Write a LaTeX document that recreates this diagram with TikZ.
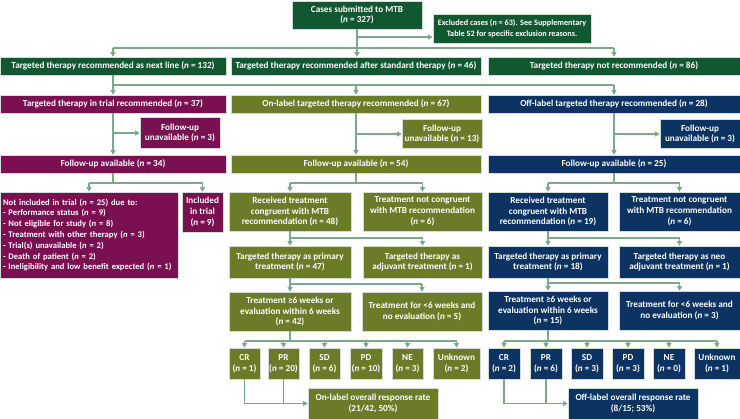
\documentclass[tikz,border=0pt]{standalone}
\usepackage{fontspec}
\setmainfont{Carlito}
\usetikzlibrary{arrows.meta}
\definecolor{dg}{HTML}{11572F}
\definecolor{pu}{HTML}{7A0F52}
\definecolor{ol}{HTML}{6C7B27}
\definecolor{nv}{HTML}{0C3361}
\definecolor{lc}{HTML}{7DA98A}
\definecolor{bd}{HTML}{D5DDD7}
\newcommand\nv{\textit{n}}
\newcommand\splitto[4]{%
  \draw[cn] (#1.south) -- (#1.south |- 0,#2);
  \draw[cn] (#3.north |- 0,#2) -- (#4.north |- 0,#2);
  \draw[ar] (#3.north |- 0,#2) -- (#3.north);
  \draw[ar] (#4.north |- 0,#2) -- (#4.north);}
\begin{document}
\begin{tikzpicture}[x=1pt,y=-1pt,
  bx/.style={draw=bd, line width=0.6pt, text=white, align=center, inner sep=0pt,
    font=\bfseries\fontsize{9.2}{10.8}\selectfont},
  cn/.style={draw=lc, line width=1.3pt},
  ar/.style={cn, -{Triangle[length=4.5pt,width=5pt]}}]
\useasboundingbox (0,0) rectangle (740,419);
% top
\node[bx, fill=dg, minimum width=130, minimum height=28] (top) at (357,15) {Cases submitted to MTB\\(\nv{} = 327)};
\node[bx, fill=dg, minimum width=158, minimum height=29, font=\bfseries\fontsize{8.2}{10.4}\selectfont] (excl) at (512,28.5) {Excluded cases (\nv{} = 63). See Supplementary\\Table S2 for specific exclusion reasons.};
% level 1
\node[bx, fill=dg, minimum width=226, minimum height=18] (la1) at (113,66) {Targeted therapy recommended as next line (\nv{} = 132)};
\node[bx, fill=dg, minimum width=250, minimum height=18] (lb1) at (356,66) {Targeted therapy recommended after standard therapy (\nv{} = 46)};
\node[bx, fill=dg, minimum width=252, minimum height=18] (lc1) at (614,66) {Targeted therapy not recommended (\nv{} = 86)};
% level 2
\node[bx, fill=pu, minimum width=226, minimum height=18] (la2) at (113,104) {Targeted therapy in trial recommended (\nv{} = 37)};
\node[bx, fill=ol, minimum width=250, minimum height=18] (lb2) at (356,104) {On-label targeted therapy recommended (\nv{} = 67)};
\node[bx, fill=nv, minimum width=252, minimum height=18] (lc2) at (614,104) {Off-label targeted therapy recommended (\nv{} = 28)};
% follow-up unavailable
\node[bx, fill=pu, minimum width=80, minimum height=31] (fua) at (180,133) {Follow-up\\unavailable (\nv{} = 3)};
\node[bx, fill=ol, minimum width=80, minimum height=29] (fub) at (442,134) {Follow-up\\unavailable (\nv{} = 13)};
\node[bx, fill=nv, minimum width=80, minimum height=29] (fuc) at (700,134) {Follow-up\\unavailable (\nv{} = 3)};
% follow-up available
\node[bx, fill=pu, minimum width=226, minimum height=18] (faa) at (113,164) {Follow-up available (\nv{} = 34)};
\node[bx, fill=ol, minimum width=250, minimum height=18] (fab) at (356,164) {Follow-up available (\nv{} = 54)};
\node[bx, fill=nv, minimum width=252, minimum height=18] (fac) at (614,164) {Follow-up available (\nv{} = 25)};
% left column
\node[bx, fill=pu, minimum width=178, minimum height=86, text width=172, inner xsep=3pt, align=left,
  font=\bfseries\fontsize{8.6}{10.8}\selectfont] (ni) at (89,235) {Not included in trial (\nv{} = 25) due to:\\
- Performance status (\nv{} = 9)\\
- Not eligible for study (\nv{} = 8)\\
- Treatment with other therapy (\nv{} = 3)\\
- Trial(s) unavailable (\nv{} = 2)\\
- Death of patient (\nv{} = 2)\\
- Ineligibility and low benefit expected (\nv{} = 1)};
\node[bx, fill=pu, minimum width=41, minimum height=40] (inc) at (202.5,212) {Included\\in trial\\(\nv{} = 9)};
% middle column
\node[bx, fill=ol, minimum width=122, minimum height=39] (recb) at (290,211.5) {Received treatment\\congruent with MTB\\recommendation (\nv{} = 48)};
\node[bx, fill=ol, minimum width=119, minimum height=39] (ncb) at (422.5,211.5) {Treatment not congruent\\with MTB recommendation\\(\nv{} = 6)};
\node[bx, fill=ol, minimum width=122, minimum height=32] (primb) at (290,262) {Targeted therapy as primary\\treatment (\nv{} = 47)};
\node[bx, fill=ol, minimum width=119, minimum height=32] (adjb) at (422.5,262) {Targeted therapy as\\adjuvant treatment (\nv{} = 1)};
\node[bx, fill=ol, minimum width=122, minimum height=39] (geb) at (290,311.5) {Treatment ≥6 weeks or\\evaluation within 6 weeks\\(\nv{} = 42)};
\node[bx, fill=ol, minimum width=120, minimum height=39] (ltb) at (422,311.5) {Treatment for <6 weeks and\\no evaluation (\nv{} = 5)};
\node[bx, fill=ol, minimum width=31, minimum height=31] (crb) at (244.5,363.5) {CR\\(\nv{} = 1)};
\node[bx, fill=ol, minimum width=31, minimum height=31] (prb) at (283.5,363.5) {PR\\(\nv{} = 20)};
\node[bx, fill=ol, minimum width=31, minimum height=31] (sdb) at (324.5,363.5) {SD\\(\nv{} = 6)};
\node[bx, fill=ol, minimum width=32, minimum height=31] (pdb) at (366,363.5) {PD\\(\nv{} = 10)};
\node[bx, fill=ol, minimum width=31, minimum height=31] (neb) at (407.5,363.5) {NE\\(\nv{} = 3)};
\node[bx, fill=ol, minimum width=47, minimum height=31] (unb) at (456.5,363.5) {Unknown\\(\nv{} = 2)};
\node[bx, fill=ol, minimum width=130, minimum height=31] (rrb) at (373,403.5) {On-label overall response rate\\(21/42, 50\%)};
% right column
\node[bx, fill=nv, minimum width=120, minimum height=39] (recc) at (548,211.5) {Received treatment\\congruent with MTB\\recommendation (\nv{} = 19)};
\node[bx, fill=nv, minimum width=121, minimum height=39] (ncc) at (679.5,211.5) {Treatment not congruent\\with MTB recommendation\\(\nv{} = 6)};
\node[bx, fill=nv, minimum width=120, minimum height=32] (primc) at (548,262) {Targeted therapy as primary\\treatment (\nv{} = 18)};
\node[bx, fill=nv, minimum width=121, minimum height=32] (neoc) at (679.5,262) {Targeted therapy as neo\\adjuvant treatment (\nv{} = 1)};
\node[bx, fill=nv, minimum width=120, minimum height=39] (gec) at (548,310.5) {Treatment ≥6 weeks or\\evaluation within 6 weeks\\(\nv{} = 15)};
\node[bx, fill=nv, minimum width=121, minimum height=39] (ltc) at (679.5,310.5) {Treatment for <6 weeks and\\no evaluation (\nv{} = 3)};
\node[bx, fill=nv, minimum width=32, minimum height=31] (crc) at (504,363.5) {CR\\(\nv{} = 2)};
\node[bx, fill=nv, minimum width=32, minimum height=31] (prc) at (546,363.5) {PR\\(\nv{} = 6)};
\node[bx, fill=nv, minimum width=32, minimum height=31] (sdc) at (587,363.5) {SD\\(\nv{} = 3)};
\node[bx, fill=nv, minimum width=32, minimum height=31] (pdc) at (628,363.5) {PD\\(\nv{} = 3)};
\node[bx, fill=nv, minimum width=32, minimum height=31] (nec) at (669,363.5) {NE\\(\nv{} = 0)};
\node[bx, fill=nv, minimum width=46, minimum height=31] (unc) at (717,363.5) {Unknown\\(\nv{} = 1)};
\node[bx, fill=nv, minimum width=130, minimum height=31] (rrc) at (633,403.5) {Off-label overall response rate\\(8/15; 53\%)};
% connectors: top
\draw[cn] (top.south) -- (top.south |- 0,48);
\draw[ar] (top.south |- 0,37) -- (excl.west |- 0,37);
\draw[cn] (la1.north |- 0,48) -- (lc1.north |- 0,48);
\draw[ar] (la1.north |- 0,48) -- (la1.north);
\draw[ar] (top.south |- 0,48) -- (lb1.north -| top.south);
\draw[ar] (lc1.north |- 0,48) -- (lc1.north);
% level 1 -> level 2
\draw[cn] (la1.south) -- (la1.south |- 0,85);
\draw[cn] (la2.north |- 0,85) -- (lc2.north |- 0,85);
\draw[ar] (la2.north |- 0,85) -- (la2.north);
\draw[ar] (lb2.north |- 0,85) -- (lb2.north);
\draw[ar] (lc2.north |- 0,85) -- (lc2.north);
% level 2 -> follow-up
\draw[ar] (la2.south) -- (faa.north);
\draw[ar] (la2.south |- fua.west) -- (fua.west);
\draw[ar] (lb2.south) -- (fab.north);
\draw[ar] (lb2.south |- fub.west) -- (fub.west);
\draw[ar] (lc2.south) -- (fac.north);
\draw[ar] (lc2.south |- fuc.west) -- (fuc.west);
% splits
\splitto{faa}{183}{ni}{inc}
\splitto{fab}{183}{recb}{ncb}
\splitto{recb}{238}{primb}{adjb}
\splitto{primb}{284}{geb}{ltb}
\splitto{fac}{183}{recc}{ncc}
\splitto{recc}{238}{primc}{neoc}
\splitto{primc}{283}{gec}{ltc}
% outcomes
\draw[cn] (geb.south) -- (geb.south |- 0,341);
\draw[cn] (crb.north |- 0,341) -- (unb.north |- 0,341);
\foreach \o in {crb,prb,sdb,pdb,neb,unb} \draw[ar] (\o.north |- 0,341) -- (\o.north);
\draw[cn] (gec.south) -- (gec.south |- 0,341);
\draw[cn] (crc.north |- 0,341) -- (unc.north |- 0,341);
\foreach \o in {crc,prc,sdc,pdc,nec,unc} \draw[ar] (\o.north |- 0,341) -- (\o.north);
% response rates
\draw[ar] (crb.south) |- (rrb.west);
\draw[cn] (prb.south) -- (prb.south |- rrb.west);
\draw[ar] (crc.south) |- (rrc.west);
\draw[cn] (prc.south) -- (prc.south |- rrc.west);
\end{tikzpicture}
\end{document}
